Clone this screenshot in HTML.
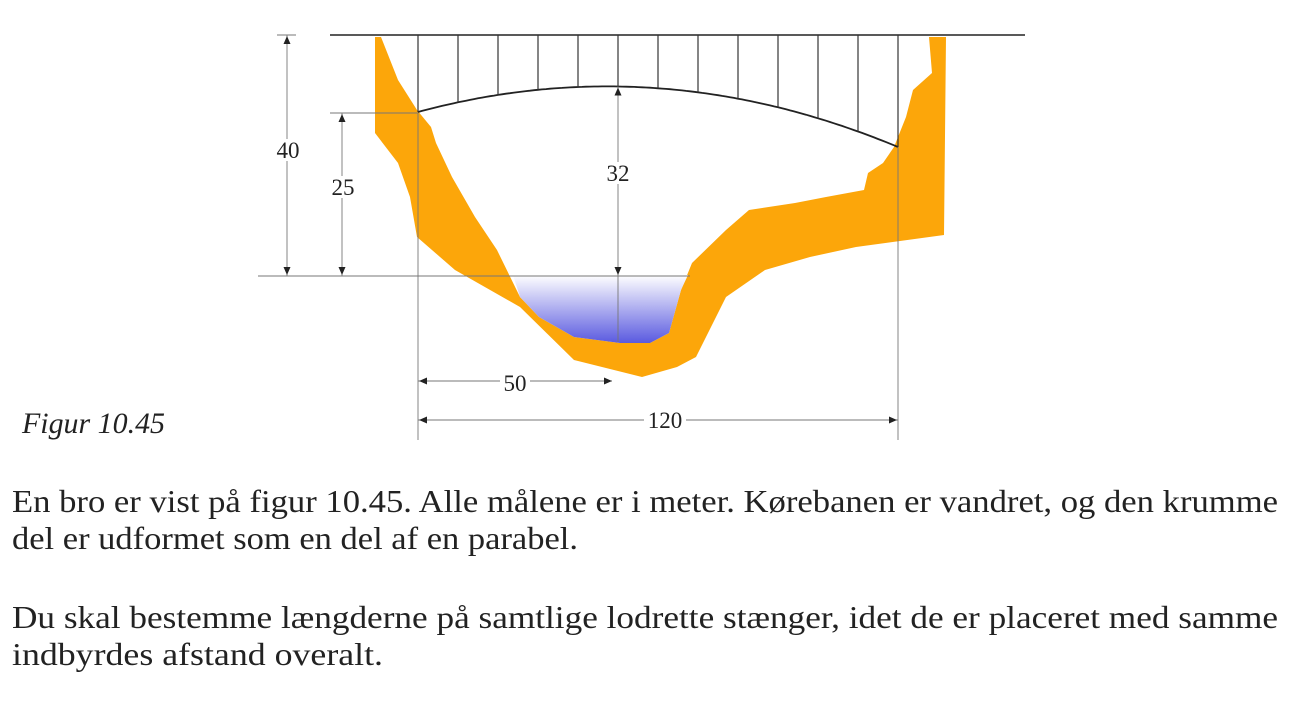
<!DOCTYPE html>
<html><head><meta charset="utf-8"><style>
html,body{margin:0;padding:0;background:#fff;}
svg{display:block;}
text{font-family:"Liberation Serif",serif;fill:#222;}
</style></head>
<body>
<svg id="fig" width="1295" height="706" viewBox="0 0 1295 706" xmlns="http://www.w3.org/2000/svg">
<defs>
<linearGradient id="water" x1="0" y1="0" x2="0" y2="1">
<stop offset="0" stop-color="#ffffff"/><stop offset="1" stop-color="#5a5ae0"/>
</linearGradient>
</defs>
<g id="terrain"></g>
<g id="lines"></g>
<g id="labels"></g>
<text x="22" y="433" font-size="30" font-style="italic" textLength="143" lengthAdjust="spacingAndGlyphs">Figur 10.45</text>
<text x="12" y="512" font-size="32" textLength="1266" lengthAdjust="spacingAndGlyphs">En bro er vist på figur 10.45. Alle målene er i meter. Kørebanen er vandret, og den krumme</text>
<text x="12" y="549" font-size="32" textLength="566" lengthAdjust="spacingAndGlyphs">del er udformet som en del af en parabel.</text>
<text x="12" y="628" font-size="32" textLength="1266" lengthAdjust="spacingAndGlyphs">Du skal bestemme længderne på samtlige lodrette stænger, idet de er placeret med samme</text>
<text x="12" y="665" font-size="32" textLength="371" lengthAdjust="spacingAndGlyphs">indbyrdes afstand overalt.</text>
</svg>
<script>
// arch anchor points (pixel space of the drawing): left end, crown, right end
const archX = [418, 618, 898];
const archY = [112, 86.5, 147];
const hangerCount = 13;
const dimLabels = ["40", "25", "32", "50", "120"];
const NS = "http://www.w3.org/2000/svg";
function mk(tag, attrs, parent){const e=document.createElementNS(NS,tag);for(const k in attrs)e.setAttribute(k,attrs[k]);parent.appendChild(e);return e;}
function arch(x){
  const [x0,x1,x2]=archX,[y0,y1,y2]=archY;
  return y0*(x-x1)*(x-x2)/((x0-x1)*(x0-x2))+y1*(x-x0)*(x-x2)/((x1-x0)*(x1-x2))+y2*(x-x0)*(x-x1)/((x2-x0)*(x2-x1));
}
const T=document.getElementById('terrain'),L=document.getElementById('lines'),B=document.getElementById('labels');
const left=[[375,37],[375,133],[398,163],[410,197],[417,237],[455,270],[520,307],[574,360],[642,377],[677,367],[696,357],[726,297],[765,270],[810,257],[856,247],[944,235],[946,37],[929,37],[932,73],[913,90],[906,117],[894,147],[883,163],[868,173],[864,190],[826,197],[795,203],[749,210],[726,230],[692,263],[681,290],[669,333],[650,343],[620,343],[574,337],[539,317],[520,297],[497,250],[475,217],[452,177],[436,143],[431,127],[417,110],[398,80],[381,37]];
let p=mk('polygon',{points:left.map(a=>a.join(',')).join(' '),fill:'#fca60a'},T);


const w=[[513,275],[688,275],[681,290],[669,333],[650,343],[620,343],[574,337],[539,317],[520,297]];
p=mk('polygon',{points:w.map(a=>a.join(',')).join(' '),fill:'url(#water)'},T);


let e=mk('line',{x1:330,y1:35,x2:1025,y2:35,stroke:'#222','stroke-width':1.6},L);


let d='';for(let x=archX[0];x<=archX[2];x+=4)d+=(d?'L':'M')+x+','+arch(x).toFixed(1);
e=mk('path',{d:d,fill:'none',stroke:'#222','stroke-width':1.8},L);


const step=(archX[2]-archX[0])/(hangerCount-1);
for(let i=0;i<hangerCount;i++){const x=archX[0]+i*step;
 e=mk('line',{x1:x,y1:35,x2:x,y2:arch(x),stroke:'#333','stroke-width':1.2},L);
 
 }
function thin(x1,y1,x2,y2,n){const e=mk('line',{x1,y1,x2,y2,stroke:'#777','stroke-width':0.9},L);
 
 }
function arrow(x,y,dir){let pts;
 if(dir==='up')pts=[[x,y],[x-3.5,y+8],[x+3.5,y+8]];else if(dir==='down')pts=[[x,y],[x-3.5,y-8],[x+3.5,y-8]];
 else if(dir==='left')pts=[[x,y],[x+8,y-3.5],[x+8,y+3.5]];else pts=[[x,y],[x-8,y-3.5],[x-8,y+3.5]];
 const e=mk('polygon',{points:pts.map(a=>a.join(',')).join(' '),fill:'#222'},L);
 
 }
thin(258,276,690,276,'water-level-line');
thin(277,35,296,35,'top-tick');
thin(330,113,418,113,'arch-end-extension');
thin(287,35,287,276,'dim-40-line');arrow(287,36,'up');arrow(287,275,'down');
thin(342,113,342,276,'dim-25-line');arrow(342,114,'up');arrow(342,275,'down');
thin(618,arch(618),618,342,'dim-32-line');arrow(618,arch(618)+1,'up');arrow(618,275,'down');
thin(418,113,418,440,'left-extension-line');
thin(898,147,898,440,'right-extension-line');
thin(418,381,612,381,'dim-50-line');arrow(419,381,'left');arrow(612,381,'right');
thin(418,420,898,420,'dim-120-line');arrow(419,420,'left');arrow(897,420,'right');
const pos=[[288,150],[343,187],[618,173],[515,383],[665,420]];
dimLabels.forEach((t,i)=>{const [x,y]=pos[i];
 const r=mk('rect',{x:x-t.length*6-3,y:y-11,width:t.length*12+6,height:22,fill:'#fff'},B);
 
 
 const tx=mk('text',{x:x,y:y+8,'font-size':23,'text-anchor':'middle'},B);tx.textContent=t;
 
 });
</script>
</body></html>
